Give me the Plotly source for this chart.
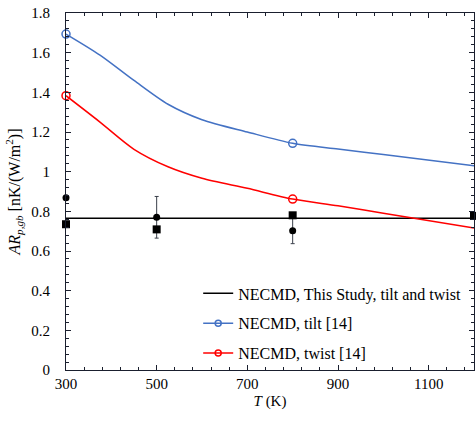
import plotly.graph_objects as go

# Temperature grid for the literature curves (K)
T_curve = [300, 375, 450, 525, 600, 700, 800, 900, 1000, 1200]
tilt_curve = [1.694, 1.588, 1.46, 1.34, 1.262, 1.200, 1.143, 1.114, 1.087, 1.030]
twist_curve = [1.383, 1.25, 1.113, 1.025, 0.967, 0.916, 0.862, 0.828, 0.79, 0.716]

# Marker points on literature curves
T_lit_mk = [300, 800]
tilt_mk = [1.694, 1.143]
twist_mk = [1.383, 0.862]

# This study
study_T = [300, 1200]
study_mean = [0.765, 0.765]
circ_T = [300, 500, 800]
circ_val = [0.869, 0.770, 0.702]
circ_err = [0.0, 0.105, 0.065]
sq_T = [300, 500, 800, 1200]
sq_val = [0.735, 0.709, 0.780, 0.777]

legend_names = ["NECMD, This Study, tilt and twist", "NECMD, tilt [14]", "NECMD, twist [14]"]

FONT = "Liberation Serif"
BLUE = "#4472C4"
RED = "#FF0000"
AX = "#1a1f2e"

fig = go.Figure()

fig.add_trace(go.Scatter(x=study_T, y=study_mean, mode="lines",
                         line=dict(color="black", width=1.5),
                         name=legend_names[0], legendgroup="a"))

for vals, mk, col, nm, grp in [(tilt_curve, tilt_mk, BLUE, legend_names[1], "b"),
                                (twist_curve, twist_mk, RED, legend_names[2], "c")]:
    fig.add_trace(go.Scatter(x=T_curve, y=vals, mode="lines",
                             line=dict(color=col, width=1.5, shape="spline", smoothing=0.8),
                             showlegend=False, hoverinfo="skip"))
    fig.add_trace(go.Scatter(x=T_lit_mk, y=mk, mode="markers", cliponaxis=False,
                             marker=dict(symbol="circle-open", size=8, color=col,
                                         line=dict(width=1.5, color=col)),
                             showlegend=False))
    # legend-only entry (line + marker sample)
    fig.add_trace(go.Scatter(x=[None], y=[None], mode="lines+markers",
                             line=dict(color=col, width=1.5),
                             marker=dict(symbol="circle-open", size=6, color=col,
                                         line=dict(width=1.5, color=col)),
                             name=nm, legendgroup=grp))

fig.add_trace(go.Scatter(x=circ_T, y=circ_val, mode="markers", cliponaxis=False,
                         marker=dict(symbol="circle", size=7, color="black"),
                         error_y=dict(type="data", array=circ_err, visible=True,
                                      color="#3a3f4a", thickness=1, width=2),
                         showlegend=False))
fig.add_trace(go.Scatter(x=sq_T, y=sq_val, mode="markers", cliponaxis=False,
                         marker=dict(symbol="square", size=8, color="black"),
                         showlegend=False))

axis_common = dict(showline=True, linecolor=AX, linewidth=1.2,
                   mirror="allticks", ticks="inside", tickcolor=AX,
                   showgrid=False, zeroline=False,
                   tickfont=dict(family=FONT, size=15, color="black"))

fig.update_xaxes(range=[300, 1200], tick0=300, dtick=200, ticklen=5,
                 minor=dict(dtick=40, tick0=300, ticks="inside", ticklen=3,
                            tickcolor=AX, showgrid=False),
                 title=dict(text="<i>T</i> (K)", standoff=4,
                            font=dict(family=FONT, size=15, color="black")),
                 **axis_common)
fig.update_yaxes(range=[0, 1.8], tick0=0, dtick=0.2, ticklen=5,
                 ticklabelstandoff=12,
                 minor=dict(dtick=0.04, ticks="inside", ticklen=3,
                            tickcolor=AX, showgrid=False),
                 title=dict(text="<i>AR</i><sub><i>p,gb</i></sub> [nK/(W/m<sup>2</sup>)]",
                            standoff=6,
                            font=dict(family=FONT, size=16, color="black")),
                 **axis_common)

fig.update_layout(width=476, height=421,
                  margin=dict(l=66, r=2, t=13, b=51),
                  paper_bgcolor="white", plot_bgcolor="white",
                  font=dict(family=FONT, size=15, color="black"),
                  legend=dict(x=0.324, y=0.262, xanchor="left", yanchor="top",
                              bgcolor="rgba(0,0,0,0)", tracegroupgap=6,
                              font=dict(family=FONT, size=16, color="black")),
                  showlegend=True)

fig.write_html("out.html", config={"displayModeBar": False},
               post_script="document.body.style.margin='0';document.body.style.overflow='hidden';")
